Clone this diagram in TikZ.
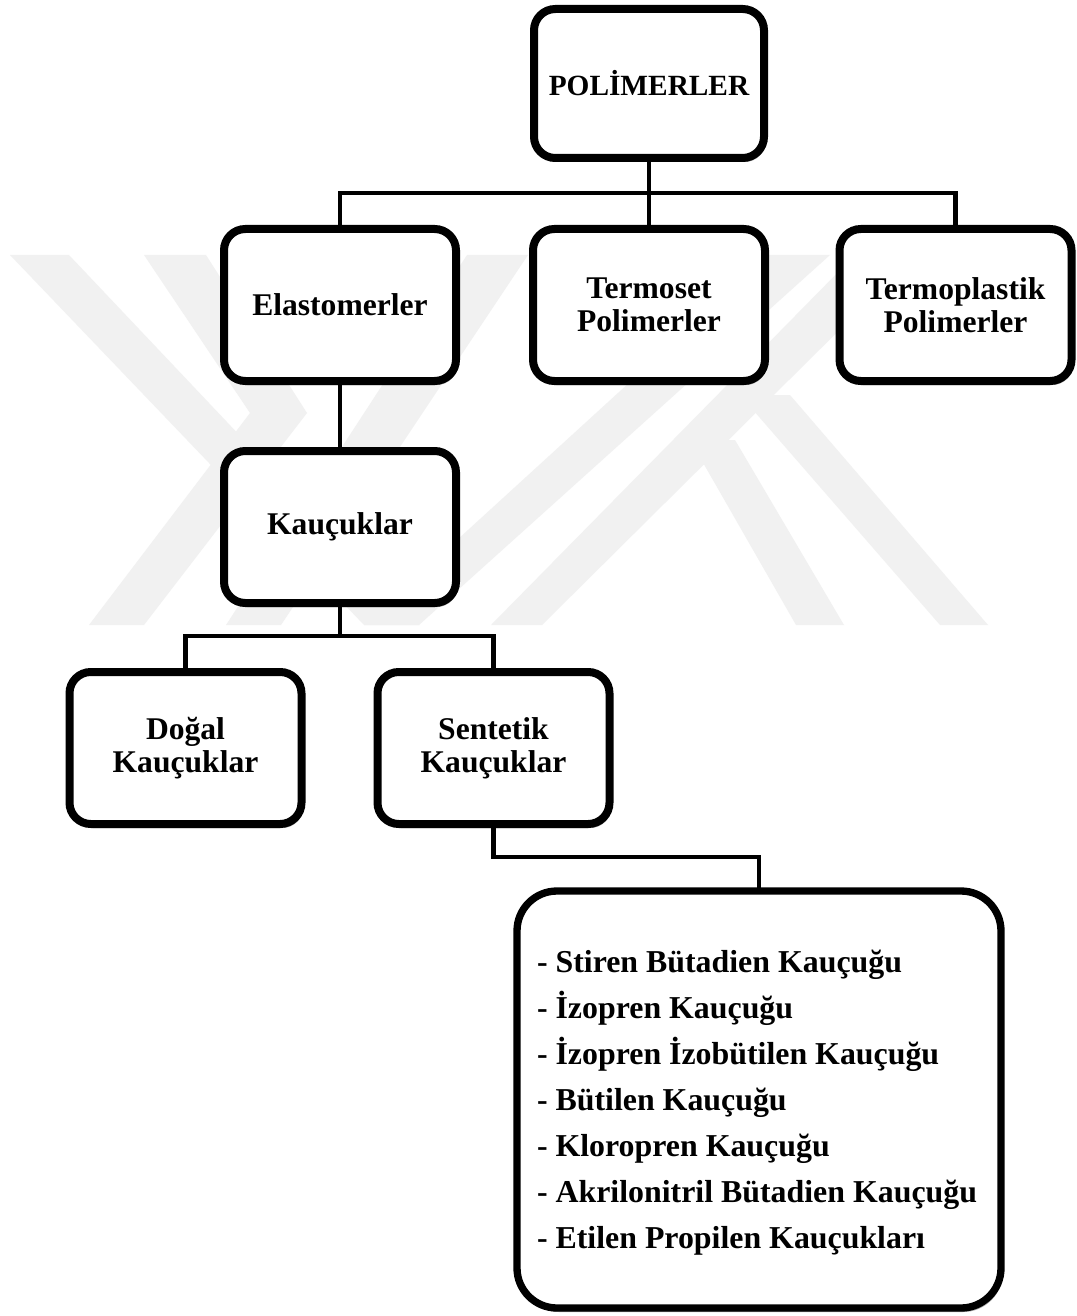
\documentclass[tikz,border=0pt]{standalone}
\usepackage{fontspec}
\setmainfont{Liberation Serif}
\usetikzlibrary{shadows}
\definecolor{wm}{gray}{0.945}
\tikzset{
  box/.style={draw=black, line width=6pt, rounded corners=16pt, fill=white,
    minimum width=174pt, minimum height=114pt, align=center, inner sep=0pt,
    font=\bfseries\fontsize{23.7}{24.75}\selectfont,
    drop shadow={fill=black, opacity=0.35, shadow xshift=1.5pt, shadow yshift=-3pt}},
  link/.style={line width=3.4pt, line cap=rect},
  listtext/.style={align=left, inner sep=0pt, font=\bfseries\fontsize{23.9}{34.5}\selectfont},
}
\begin{document}
\begin{tikzpicture}[x=0.75pt, y=-0.75pt]
\useasboundingbox (0,0) rectangle (1076,1316);
\fill[white] (0,0) rectangle (1076,1316);
% faint watermark
\begin{scope}[fill=wm]
  \fill (10,255) -- (69,255) -- (419,625) -- (364,625) -- cycle;
  \fill (769,255) -- (830,255) -- (419,625) -- (364,625) -- cycle;
  \fill (144,255) -- (206,255) -- (307,413) -- (144,625) -- (89,625) -- (250,413) -- cycle;
  \fill (467,255) -- (528,255) -- (281,625) -- (226,625) -- cycle;
  \fill (855,255) -- (915,255) -- (542,625) -- (491,625) -- cycle;
  \fill (740,395) -- (790,395) -- (988,625) -- (940,625) -- cycle;
  \fill (690,440) -- (735,440) -- (844,625) -- (796,625) -- cycle;
\end{scope}
% nodes
\node[box, minimum width=172.5pt, minimum height=111.75pt, font=\bfseries\fontsize{22}{24}\selectfont] (pol) at (649,83.5) {POLİMERLER};
\node[box] (ela) at (340,305) {Elastomerler};
\node[box] (ter) at (649,305) {Termoset\\Polimerler};
\node[box] (tpl) at (955.5,305) {Termoplastik\\Polimerler};
\node[box] (kau) at (340,527) {Kauçuklar};
\node[box] (dog) at (185.5,748) {Doğal\\Kauçuklar};
\node[box] (sen) at (493.5,748) {Sentetik\\Kauçuklar};
\node[box, minimum width=363pt, minimum height=312.75pt, rounded corners=30pt, line width=5.5pt] (lst) at (759,1099.5) {};
\node[listtext] (lsttxt) at (757,1103)
  {- Stiren Bütadien Kauçuğu\\- İzopren Kauçuğu\\- İzopren İzobütilen Kauçuğu\\- Bütilen Kauçuğu\\- Kloropren Kauçuğu\\- Akrilonitril Bütadien Kauçuğu\\- Etilen Propilen Kauçukları};
% connectors
\coordinate (j1) at (649,193);
\coordinate (j2) at (340,636);
\coordinate (j3) at (493.5,857);
\draw[link] (pol.south) -- (ter.north);
\draw[link] (ela.north) |- (j1) -| (tpl.north);
\draw[link] (ela.south) -- (kau.north);
\draw[link] (kau.south) -- (j2);
\draw[link] (dog.north) |- (j2) -| (sen.north);
\draw[link] (sen.south) |- (lst.north |- j3) -- (lst.north);
\end{tikzpicture}
\end{document}
